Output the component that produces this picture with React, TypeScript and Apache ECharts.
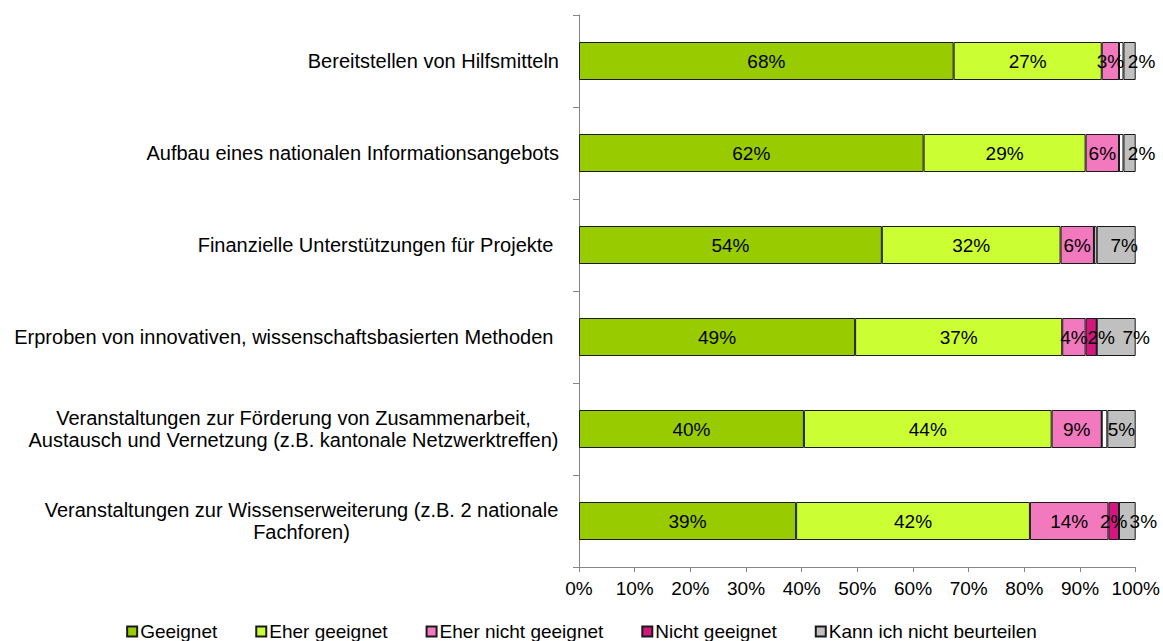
import React, { useEffect, useRef } from "react";
import * as echarts from "echarts";

const categories = [
  "Bereitstellen von Hilfsmitteln",
  "Aufbau eines nationalen Informationsangebots",
  "Finanzielle Unterstützungen für Projekte ",
  "Erproben von innovativen, wissenschaftsbasierten Methoden ",
  "Veranstaltungen zur Förderung von Zusammenarbeit,\nAustausch und Vernetzung (z.B. kantonale Netzwerktreffen)",
  "Veranstaltungen zur Wissenserweiterung (z.B. 2 nationale\nFachforen)",
];

const seriesNames = [
  "Geeignet",
  "Eher geeignet",
  "Eher nicht geeignet",
  "Nicht geeignet",
  "Keine Angabe",
  "Kann ich nicht beurteilen",
];

const geeignet = [67.3, 61.9, 54.4, 49.6, 40.4, 39.0];
const eherGeeignet = [26.6, 29.1, 32.1, 37.2, 44.5, 42.0];
const eherNichtGeeignet = [3.1, 6.0, 6.0, 4.2, 9.0, 14.1];
const nichtGeeignet = [0, 0, 0, 2.0, 0, 1.9];
const keineAngabe = [0.8, 0.8, 0.5, 0, 1.0, 0];
const kannNicht = [2.2, 2.2, 7.0, 7.0, 5.1, 3.0];

const labelsGeeignet = ["68%", "62%", "54%", "49%", "40%", "39%"];
const labelsEherGeeignet = ["27%", "29%", "32%", "37%", "44%", "42%"];
const labelsEherNicht = ["3%", "6%", "6%", "4%", "9%", "14%"];
const labelsNicht = ["", "", "", "2%", "", "2%"];
const labelsKeine = ["", "", "", "", "", ""];
const labelsKann = ["2%", "2%", "7%", "7%", "5%", "3%"];

const xTicks = [0, 10, 20, 30, 40, 50, 60, 70, 80, 90, 100];

const colors = ["#99CC00", "#CCFF33", "#F279BE", "#D4177E", "#FFFFFF", "#C0C0C0"];

// horizontal nudges of crowded data labels (px), per series and row
const labelShift: number[][] = [
  [0, 0, 0, 0, 0, 0],
  [0, 0, 0, 0, 0, 0],
  [0, 0, 0, 0, 0, 0],
  [0, 0, 0, 10, 0, 0],
  [0, 0, 0, 0, 0, 0],
  [12, 12, 8, 20, 0, 16],
];

const FONT = '"Liberation Sans", Arial, sans-serif';
const FS = 19;
const CAT_FS = 20;

export default function App() {
  const ref = useRef<HTMLDivElement>(null);
  useEffect(() => {
    if (!ref.current) return;
    const chart = echarts.init(ref.current, null, { renderer: "svg" });
    const allValues = [geeignet, eherGeeignet, eherNichtGeeignet, nichtGeeignet, keineAngabe, kannNicht];
    const allLabels = [labelsGeeignet, labelsEherGeeignet, labelsEherNicht, labelsNicht, labelsKeine, labelsKann];

    const canvas = document.createElement("canvas");
    const ctx = canvas.getContext("2d")!;
    ctx.font = `${CAT_FS}px ${FONT}`;
    const rich: Record<string, any> = {};
    categories.forEach((c, i) => {
      if (c.includes("\n")) {
        const w = Math.max(...c.split("\n").map((l) => ctx.measureText(l).width));
        rich["m" + i] = { width: Math.ceil(w) + 1, align: "center", fontSize: CAT_FS, fontFamily: FONT, color: "#000", lineHeight: 22 };
      }
    });

    chart.setOption({
      animation: false,
      textStyle: { fontFamily: FONT },
      grid: { left: 579, right: 27, top: 15, bottom: 74, containLabel: false },
      legend: {
        data: seriesNames.filter((n) => n !== "Keine Angabe"),
        top: 622,
        padding: 0,
        left: "center",
        icon: "rect",
        itemWidth: 10,
        itemHeight: 10,
        itemGap: 38,
        textStyle: { fontSize: FS, fontFamily: FONT, color: "#000", padding: [0, 0, 0, -2] },
      },
      xAxis: {
        type: "value",
        min: xTicks[0],
        max: xTicks[xTicks.length - 1],
        interval: 10,
        axisLine: { show: true, lineStyle: { color: "#868686", width: 1 } },
        axisTick: { show: true, length: 5, lineStyle: { color: "#868686" } },
        splitLine: { show: false },
        axisLabel: { formatter: "{value}%", fontSize: FS, fontFamily: FONT, color: "#000", margin: 12 },
      },
      yAxis: {
        type: "category",
        inverse: true,
        data: categories,
        axisLine: { show: true, lineStyle: { color: "#868686", width: 1 } },
        axisTick: { show: true, length: 6, lineStyle: { color: "#868686" } },
        axisLabel: {
          fontSize: CAT_FS,
          fontFamily: FONT,
          color: "#000",
          margin: 20,
          lineHeight: 22,
          formatter: (v: string, i: number) =>
            v.includes("\n") ? v.split("\n").map((l) => `{m${i}|${l}}`).join("\n") : v,
          rich,
        },
      },
      series: seriesNames.map((name, si) => ({
        name,
        type: "bar",
        stack: "total",
        barWidth: 38,
        data: allValues[si].map((v, di) => ({
          value: v,
          label: { offset: [labelShift[si][di], 0] },
        })),
        itemStyle: { color: colors[si], borderColor: "#1a1a1a", borderWidth: 1 },
        label: {
          show: true,
          position: "inside",
          color: "#000",
          fontSize: FS,
          fontFamily: FONT,
          formatter: (p: any) => allLabels[si][p.dataIndex],
        },
        emphasis: { disabled: true },
      })),
    });
    return () => chart.dispose();
  }, []);
  return (
    <div
      ref={ref}
      style={{ position: "fixed", left: 0, top: 0, width: 1163, height: 641, background: "#fff" }}
    />
  );
}
